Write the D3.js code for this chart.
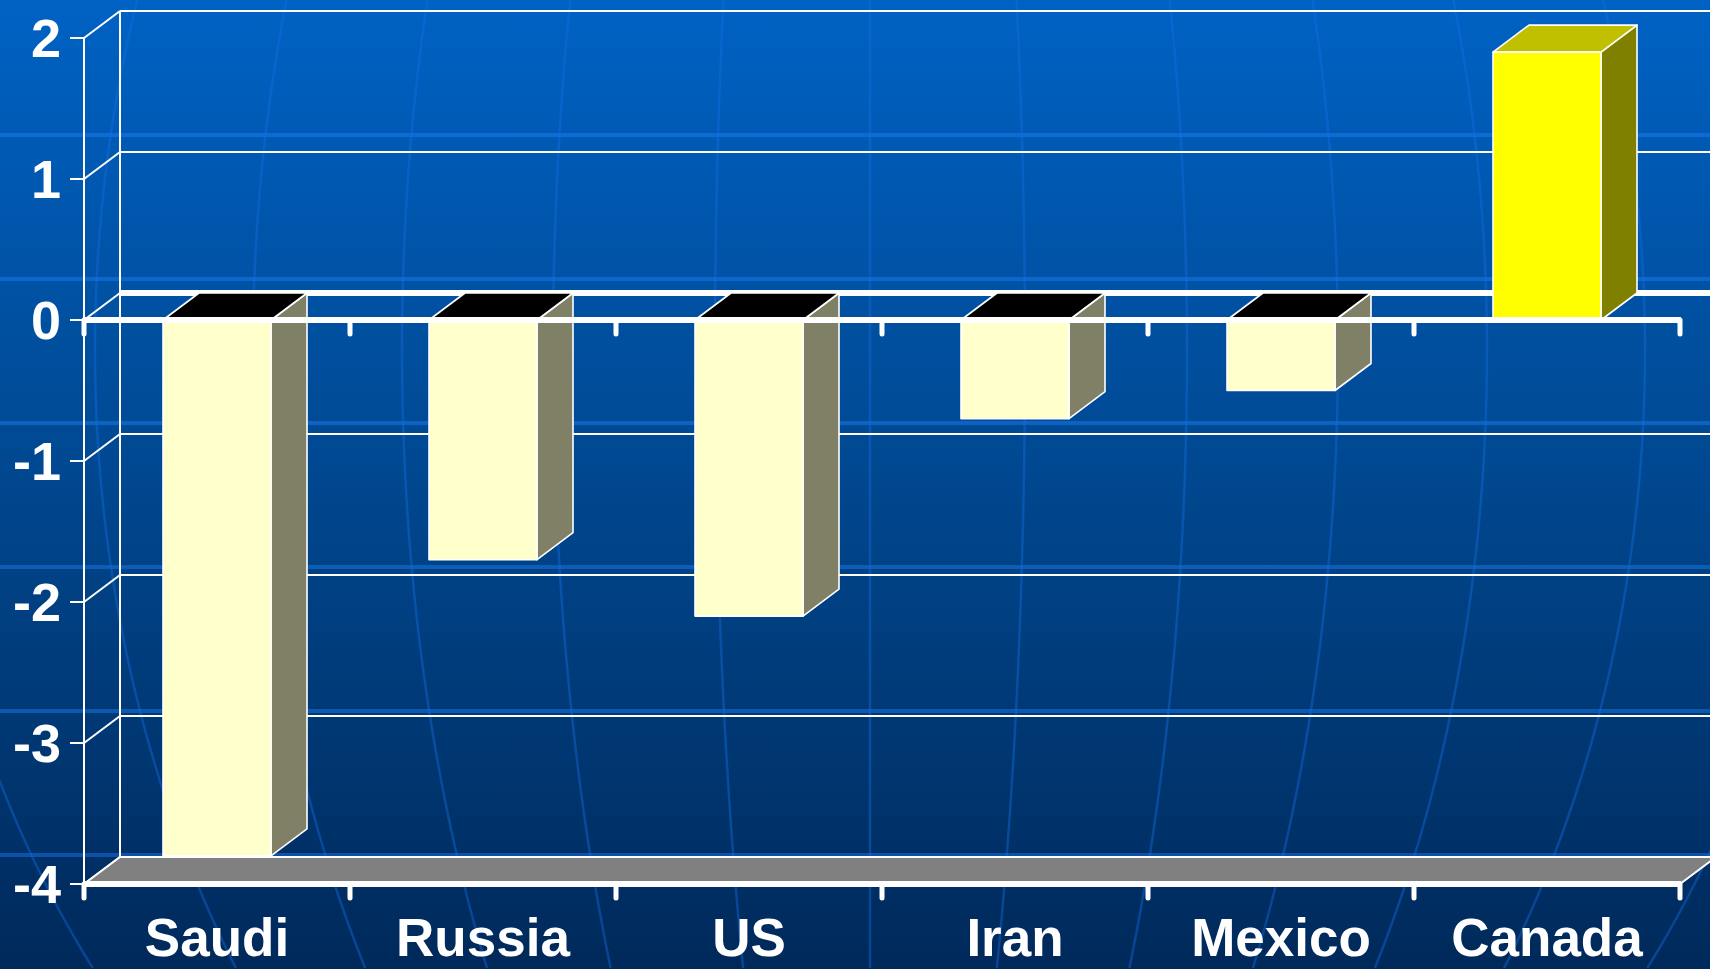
<!DOCTYPE html>
<html>
<head>
<meta charset="utf-8">
<script src="https://cdn.jsdelivr.net/npm/d3@7"></script>
<style>
  html, body { margin: 0; padding: 0; overflow: hidden; background: #003a7a; }
  svg { display: block; }
</style>
</head>
<body>
<svg id="chart" width="1710" height="969"></svg>
<script>
// Change by producer
const categories = ["Saudi", "Russia", "US", "Iran", "Mexico", "Canada"];
const values = [-3.8, -1.7, -2.1, -0.7, -0.5, 1.9];
const yTicks = [2, 1, 0, -1, -2, -3, -4];

const W = 1710, H = 969;
const FONT = "'Liberation Sans', Arial, Helvetica, sans-serif";
const svg = d3.select("#chart");

// 3-D projection offset for the wall depth
const DX = 36, DY = -27;

const x = d3.scaleBand().domain(categories).range([84, 1680]).padding(0);
const y = d3.scaleLinear().domain([-4, 2]).range([884, 38]);
const x0 = x.range()[0], x1 = x.range()[1];
const barW = x.bandwidth() * 0.406;

// ---------- background ----------
const defs = svg.append("defs");
const grad = defs.append("linearGradient")
  .attr("id", "bg").attr("x1", 0).attr("y1", 0).attr("x2", 0).attr("y2", 1);
grad.append("stop").attr("offset", "0%").attr("stop-color", "#0062c4");
grad.append("stop").attr("offset", "50%").attr("stop-color", "#00478f");
grad.append("stop").attr("offset", "100%").attr("stop-color", "#00295a");
svg.append("rect").attr("width", W).attr("height", H).attr("fill", "url(#bg)");

// faint globe grid behind the chart
const deco = svg.append("g").attr("class", "globe");
[135, 279, 423, 567, 711, 855].forEach(yy => {
  deco.append("line").attr("x1", 0).attr("x2", W).attr("y1", yy).attr("y2", yy)
    .attr("stroke", "rgb(30,130,255)").attr("stroke-opacity", 0.42).attr("stroke-width", 4);
});
const gcx = 870, gcy = 350, gR = 1075;
const meridianOffsets = [0, 155, -155, 317, -317, 468, -468, 617, -617, 775, -775, 950, -950];
const ys = d3.range(0, H + 1, 8);
const meridian = d3.line().curve(d3.curveBasis);
meridianOffsets.forEach(k => {
  const pts = ys.map(yy => {
    const t = (yy - gcy) / gR;
    return [gcx + k * Math.sqrt(Math.max(0, 1 - t * t)), yy];
  });
  deco.append("path").attr("d", meridian(pts)).attr("fill", "none")
    .attr("stroke", "rgb(20,110,230)").attr("stroke-opacity", 0.4).attr("stroke-width", 2.5);
});

// ---------- back wall & side wall lines ----------
const wall = svg.append("g").attr("stroke", "#fff").attr("fill", "none");
yTicks.forEach(v => {
  const yy = y(v);
  if (v !== -4) {
    wall.append("line").attr("x1", x0 + DX).attr("x2", W)
      .attr("y1", yy + DY).attr("y2", yy + DY)
      .attr("stroke-width", v === 0 ? 6 : 2);
  }
  wall.append("line").attr("x1", x0).attr("y1", yy).attr("x2", x0 + DX).attr("y2", yy + DY)
    .attr("stroke-width", 2);
});
wall.append("line").attr("x1", x0 + DX).attr("x2", x0 + DX)
  .attr("y1", y(2) + DY).attr("y2", y(-4) + DY).attr("stroke-width", 2);

// ---------- floor at the axis minimum ----------
const yf = y(-4);
svg.append("polygon")
  .attr("points", [[x0, yf], [x1, yf], [x1 + DX, yf + DY], [x0 + DX, yf + DY]].map(p => p.join(",")).join(" "))
  .attr("fill", "#808080").attr("stroke", "#fff").attr("stroke-width", 2).attr("stroke-linejoin", "round");

// ---------- bars ----------
const palette = {
  neg: { front: "#ffffcc", top: "#000000", side: "#808066" },
  pos: { front: "#ffff00", top: "#c0c000", side: "#808000" }
};
const bars = svg.append("g").attr("stroke", "#fff").attr("stroke-width", 1.6).attr("stroke-linejoin", "round");
categories.forEach((c, i) => {
  const v = values[i];
  const col = v >= 0 ? palette.pos : palette.neg;
  const bx0 = x(c) + (x.bandwidth() - barW) / 2;
  const bx1 = bx0 + barW;
  const top = Math.min(y(0), y(v));
  const bot = Math.max(y(0), y(v));
  const g = bars.append("g").attr("class", "bar");
  g.append("polygon")
    .attr("points", [[bx1, top], [bx1 + DX, top + DY], [bx1 + DX, bot + DY], [bx1, bot]].map(p => p.join(",")).join(" "))
    .attr("fill", col.side);
  g.append("polygon")
    .attr("points", [[bx0, top], [bx1, top], [bx1 + DX, top + DY], [bx0 + DX, top + DY]].map(p => p.join(",")).join(" "))
    .attr("fill", col.top);
  g.append("rect").attr("x", bx0).attr("y", top).attr("width", barW).attr("height", bot - top)
    .attr("fill", col.front);
});

// ---------- front axes ----------
const front = svg.append("g").attr("stroke", "#fff");
const bounds = categories.map(c => x(c)).concat([x1]);
[y(0), y(-4)].forEach(yy => {
  front.append("line").attr("x1", x0).attr("x2", x1 + 1).attr("y1", yy).attr("y2", yy)
    .attr("stroke-width", 6).attr("stroke-linecap", "butt");
  bounds.forEach(bx => {
    front.append("line").attr("x1", bx).attr("x2", bx).attr("y1", yy).attr("y2", yy + 14)
      .attr("stroke-width", 5).attr("stroke-linecap", "round");
  });
});
front.append("line").attr("x1", x0).attr("x2", x0).attr("y1", y(2)).attr("y2", y(-4)).attr("stroke-width", 2);
yTicks.forEach(v => {
  front.append("line").attr("x1", x0 - 14).attr("x2", x0).attr("y1", y(v)).attr("y2", y(v)).attr("stroke-width", 2);
});

// ---------- labels ----------
svg.append("g").selectAll("text").data(yTicks).join("text")
  .attr("x", 61).attr("y", d => y(d)).attr("dy", "0.36em")
  .attr("text-anchor", "end")
  .attr("font-family", FONT).attr("font-weight", "bold").attr("font-size", 54)
  .attr("fill", "#fff")
  .text(d => String(d));

svg.append("g").selectAll("text").data(categories).join("text")
  .attr("x", d => x(d) + x.bandwidth() / 2).attr("y", 956)
  .attr("text-anchor", "middle")
  .attr("font-family", FONT).attr("font-weight", "bold").attr("font-size", 53)
  .attr("fill", "#fff")
  .text(d => d);
</script>
</body>
</html>
